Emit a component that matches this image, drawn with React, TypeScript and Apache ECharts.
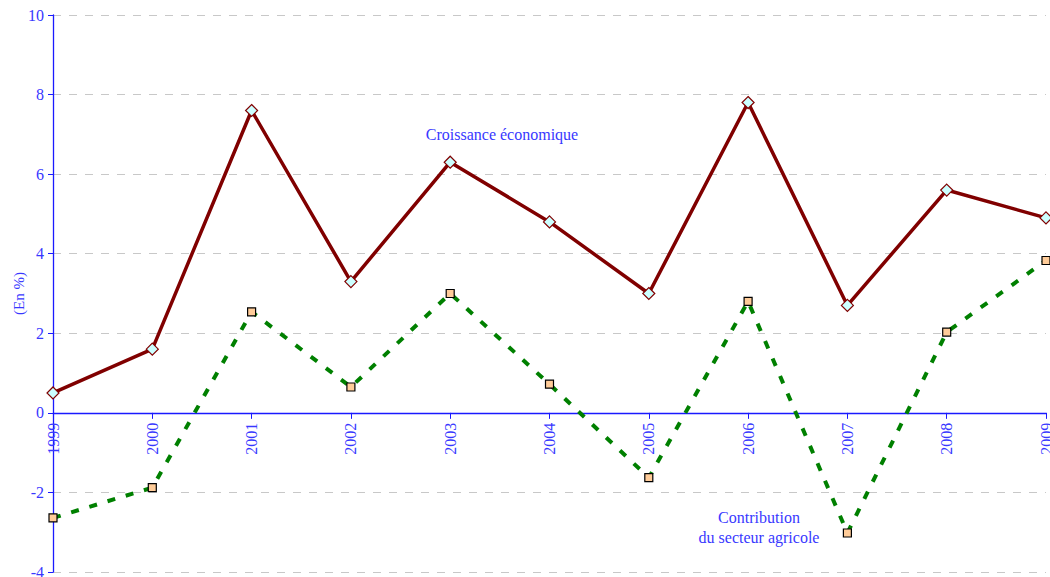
import React, { useEffect, useRef } from "react";
import * as echarts from "echarts";

const years = ["1999", "2000", "2001", "2002", "2003", "2004", "2005", "2006", "2007", "2008", "2009"];
const croissance = [0.5, 1.6, 7.6, 3.3, 6.3, 4.8, 3.0, 7.8, 2.7, 5.6, 4.9];
const agricole = [-2.64, -1.88, 2.54, 0.65, 3.0, 0.72, -1.63, 2.8, -3.02, 2.03, 3.83];
const yMin = -4;
const yMax = 10;
const yStep = 2;
const labelCroissance = "Croissance économique";
const labelAgricole = "Contribution\ndu secteur agricole";
const yAxisName = "(En %)";

const FONT = "'Liberation Serif', 'Times New Roman', serif";
const BLUE_TXT = "#3838ff";
const BLUE_AXIS = "#1a1aff";

const W = 1050;
const H = 577;
const GRID = { left: 53, right: 4, top: 15, bottom: 5 };

export default function App() {
  const ref = useRef<HTMLDivElement>(null);
  useEffect(() => {
    const chart = echarts.init(ref.current!, null, { renderer: "svg" });
    const plotH = H - GRID.top - GRID.bottom;
    const zeroOffset = -(plotH * (0 - yMin)) / (yMax - yMin);
    chart.setOption({
      animation: false,
      backgroundColor: "#ffffff",
      grid: { ...GRID, containLabel: false, outerBoundsMode: "none" },
      xAxis: {
        type: "category",
        data: years,
        boundaryGap: false,
        position: "bottom",
        offset: zeroOffset,
        axisLine: { onZero: false, lineStyle: { color: BLUE_AXIS, width: 1.3 } },
        axisTick: { show: true, length: 6, alignWithLabel: true, lineStyle: { color: BLUE_AXIS } },
        axisLabel: { rotate: 90, color: BLUE_TXT, fontFamily: FONT, fontSize: 16, margin: 10 },
        splitLine: { show: false },
      },
      yAxis: {
        type: "value",
        min: yMin,
        max: yMax,
        interval: yStep,
        name: yAxisName,
        nameLocation: "middle",
        nameGap: 27,
        nameRotate: 90,
        nameMoveOverlap: false,
        nameTextStyle: { color: BLUE_TXT, fontFamily: FONT, fontSize: 15 },
        axisLine: { show: true, lineStyle: { color: BLUE_AXIS, width: 1.3 } },
        axisTick: { show: true, length: 5, lineStyle: { color: BLUE_AXIS } },
        axisLabel: { color: BLUE_TXT, fontFamily: FONT, fontSize: 16, margin: 9 },
        splitLine: { show: true, lineStyle: { color: "#c8c8c8", type: [8, 8], width: 1 } },
      },
      series: [
        {
          name: "agricole",
          type: "line",
          data: agricole,
          symbol: "rect",
          symbolSize: 8,
          lineStyle: { color: "#008000", width: 4, type: [8, 11] },
          itemStyle: { color: "#ffcc99", borderColor: "#000000", borderWidth: 1.2 },
          z: 2,
        },
        {
          name: "croissance",
          type: "line",
          data: croissance,
          symbol: "diamond",
          symbolSize: 12,
          lineStyle: { color: "#800000", width: 3.5 },
          itemStyle: { color: "#ccffff", borderColor: "#800000", borderWidth: 1.2 },
          z: 3,
        },
      ],
      graphic: [
        {
          type: "text",
          x: 502,
          y: 134,
          style: {
            text: labelCroissance,
            fill: BLUE_TXT,
            font: `16px ${FONT}`,
            align: "center",
            verticalAlign: "middle",
          },
        },
        {
          type: "text",
          x: 759,
          y: 527,
          style: {
            text: labelAgricole,
            fill: BLUE_TXT,
            font: `16px ${FONT}`,
            align: "center",
            verticalAlign: "middle",
            lineHeight: 20,
          },
        },
      ],
    });
    return () => chart.dispose();
  }, []);
  return (
    <div
      ref={ref}
      style={{ position: "fixed", left: 0, top: 0, width: W, height: H, background: "#fff" }}
    />
  );
}
